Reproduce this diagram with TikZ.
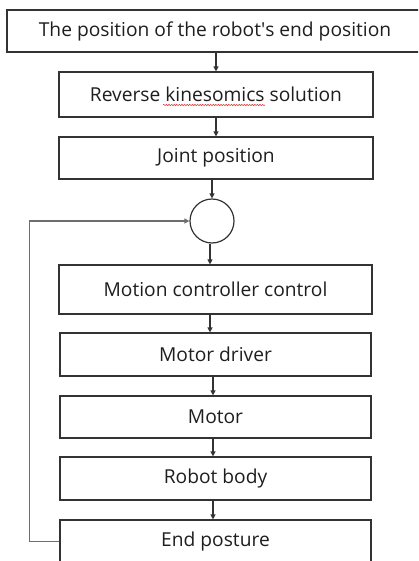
\documentclass[tikz,border=0pt]{standalone}
\usepackage{fontspec}
\setmainfont{Open Sans}
\usetikzlibrary{arrows.meta,decorations.pathmorphing}
\definecolor{edge}{HTML}{333333}
\definecolor{fbline}{HTML}{6E6E6E}
\definecolor{txt}{HTML}{1E1E1E}
\definecolor{squig}{HTML}{E04040}
\tikzset{
  box/.style={draw=edge, line width=1.2pt, rectangle, inner sep=0pt, text=txt, font=\fontsize{19.2}{22}\selectfont},
  sumnode/.style={draw=edge, line width=1.2pt, circle, inner sep=0pt, minimum size=44pt},
  arr/.style={draw=edge, line width=1.2pt, -{Triangle[length=5pt,width=5pt]}},
  fb/.style={draw=fbline, line width=1.4pt, -{Triangle[length=5pt,width=5pt]}},
  squiggle/.style={draw=squig, line width=0.6pt, decorate, decoration={snake, amplitude=0.7pt, segment length=2.6pt}}
}
\begin{document}
\begin{tikzpicture}[x=1pt,y=-1pt]
\useasboundingbox (0,0) rectangle (418,561);
\clip (0,0) rectangle (418,561);
\node[box, minimum width=416pt, minimum height=42pt] (top) at (215,31) {The position of the robot\textquotesingle s end position};
\node[box, minimum width=314pt, minimum height=45pt] (b2) at (216,94.5) {Reverse kinesomics solution};
\node[box, minimum width=314pt, minimum height=42pt] (b3) at (216,158) {Joint position};
\node[sumnode] (c) at (212,221) {};
\node[box, minimum width=313pt, minimum height=49pt] (b4) at (215.5,289.5) {Motion controller control};
\node[box, minimum width=311pt, minimum height=43pt] (b5) at (215.5,354.5) {Motor driver};
\node[box, minimum width=311pt, minimum height=42pt] (b6) at (215.5,417) {Motor};
\node[box, minimum width=311pt, minimum height=43pt] (b7) at (215.5,478.5) {Robot body};
\node[box, minimum width=311pt, minimum height=43pt] (b8) at (215.5,541.5) {End posture};
\path[squiggle] (163,105) -- (265,105);
\draw[arr] (top.south -| b2.north) -- (b2.north);
\draw[arr] (b2.south) -- (b3.north);
\draw[arr] (b3.south -| c.north) -- (c.north);
\draw[arr] ([xshift=-2pt]c.south) -- ([xshift=-2pt]c.south |- b4.north);
\draw[arr] ([xshift=-5.5pt]b4.south) -- ([xshift=-5.5pt]b5.north);
\draw[arr] ([xshift=-2.5pt]b5.south) -- ([xshift=-2.5pt]b6.north);
\draw[arr] ([xshift=-2.5pt]b6.south) -- ([xshift=-2.5pt]b7.north);
\draw[arr] ([xshift=-2.5pt]b7.south) -- ([xshift=-2.5pt]b8.north);
\draw[fb] (b8.west) -- ++(-30,0) |- (c.west);
\end{tikzpicture}
\end{document}
